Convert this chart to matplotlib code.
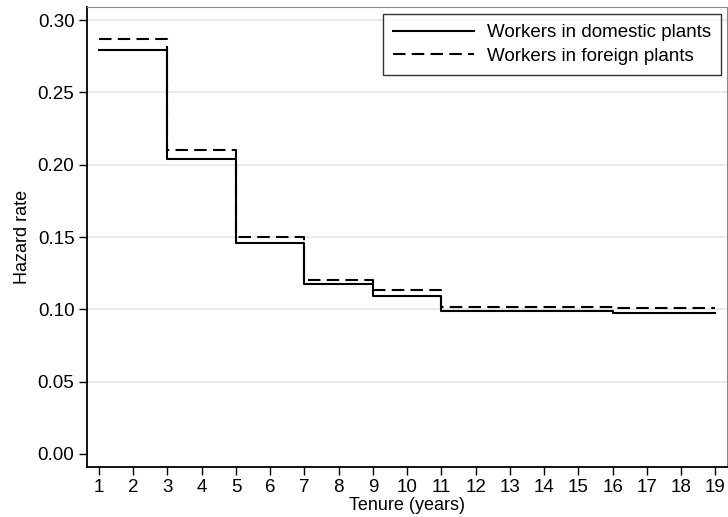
import matplotlib
matplotlib.use("Agg")
import matplotlib.pyplot as plt

plt.rcParams["font.family"] = ["Liberation Sans", "DejaVu Sans"]

# step edges (tenure, years) and hazard per interval
tenure = [1, 3, 5, 7, 9, 11, 16, 19]
domestic = [0.279, 0.204, 0.1456, 0.1173, 0.1094, 0.0988, 0.0977]
foreign = [0.287, 0.2099, 0.150, 0.1205, 0.1131, 0.1018, 0.1009]

x_ticks = list(range(1, 20))
y_ticks = [0.00, 0.05, 0.10, 0.15, 0.20, 0.25, 0.30]

fig = plt.figure(figsize=(7.28, 5.17), dpi=100)
ax = fig.add_axes([87 / 728, 1 - 467 / 517, 640 / 728, 460 / 517])

for yt in y_ticks[1:]:
    ax.axhline(yt, color="#e6e6e6", lw=1.2, zorder=0)

ax.step(tenure, domestic + [domestic[-1]], where="post", color="black",
        lw=1.5, label="Workers in domestic plants")
ax.step(tenure, foreign + [foreign[-1]], where="post", color="black",
        lw=1.5, ls=(0, (6, 3)), label="Workers in foreign plants")

ax.set_xlim(0.65, 19.34)
ax.set_ylim(-0.009, 0.309)
ax.set_xticks(x_ticks)
ax.set_yticks(y_ticks)
ax.set_yticklabels([f"{v:.2f}" for v in y_ticks])
ax.tick_params(direction="out", length=6, width=1, labelsize=13.5,
               colors="black", pad=3)
ax.set_xlabel("Tenure (years)", fontsize=13, labelpad=0)
ax.set_ylabel("Hazard rate", fontsize=13, labelpad=5)

for side in ["left", "bottom"]:
    ax.spines[side].set_linewidth(1.3)
for side in ["top", "right"]:
    ax.spines[side].set_color("#888888")

leg = ax.legend(loc="upper right", fontsize=13.5, frameon=True, fancybox=False,
                edgecolor="black", handlelength=4.3, handletextpad=0.7,
                borderpad=0.55, labelspacing=0.35, borderaxespad=0,
                bbox_to_anchor=(0.991, 0.985))
leg.get_frame().set_linewidth(1.0)

fig.savefig("out.png", dpi=100)
